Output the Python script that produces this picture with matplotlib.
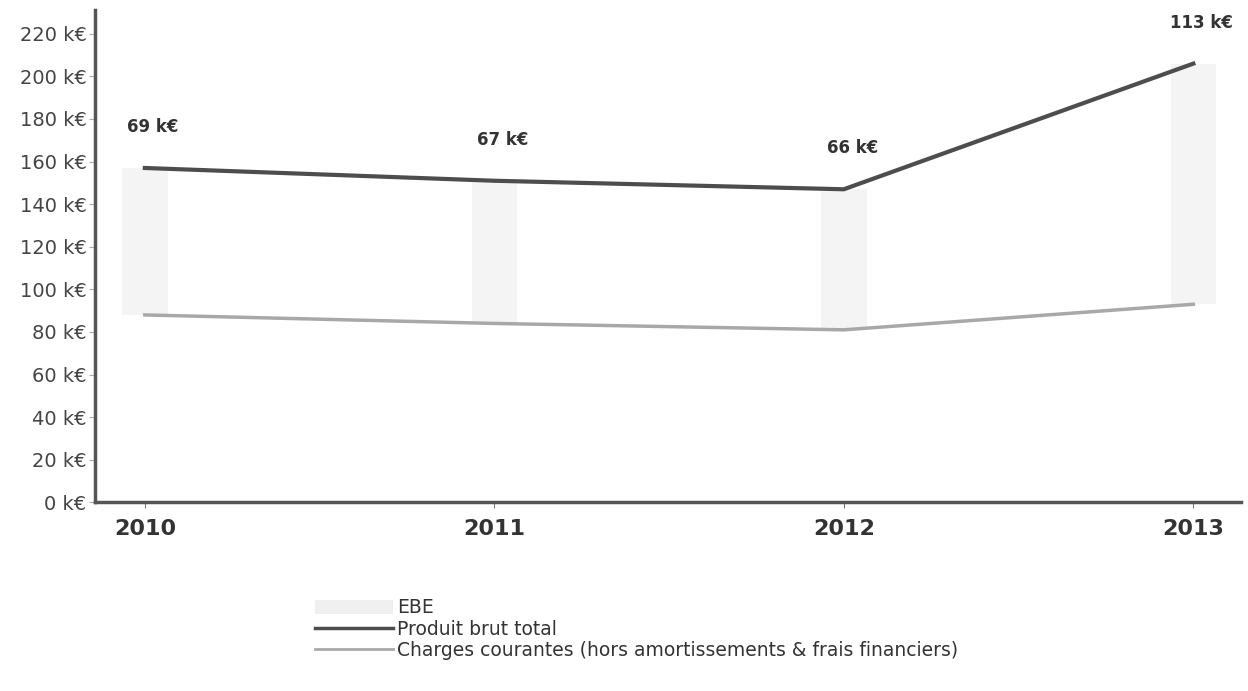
import matplotlib.pyplot as plt
from matplotlib.patches import Patch
from matplotlib.lines import Line2D

years = [2010, 2011, 2012, 2013]
produit = [157, 151, 147, 206]
charges = [88, 84, 81, 93]
ebe = [69, 67, 66, 113]
yticks = list(range(0, 221, 20))

fig = plt.figure(figsize=(12.48, 6.91), dpi=100)
ax = fig.add_axes([0.076, 0.273, 0.918, 0.712])

# EBE as floating bars between charges and produit
heights = [p - c for p, c in zip(produit, charges)]
ax.bar(years, heights, bottom=charges, width=0.13, color="#f4f4f4", zorder=1)
ax.plot(years, produit, color="#4d4d4d", lw=3, zorder=3)
ax.plot(years, charges, color="#a8a8a8", lw=2.5, zorder=3)

for x, p, e in zip(years, produit, ebe):
    ax.annotate(f"{e} k€", (x, p), xytext=(6, 23), textcoords="offset points",
                ha="center", va="bottom", fontsize=12, fontweight="bold",
                color="#333333")

ax.set_xlim(2009.857, 2013.135)
ax.set_ylim(0, 231)
ax.set_xticks(years)
ax.set_xticklabels([str(y) for y in years], fontsize=16, fontweight="bold", color="#333333")
ax.set_yticks(yticks)
ax.set_yticklabels([f"{v} k€" for v in yticks], fontsize=14, color="#444444")
ax.tick_params(axis="y", length=4, color="#aaaaaa", pad=2)
ax.tick_params(axis="x", length=4, color="#777777", pad=8)
for s in ["top", "right"]:
    ax.spines[s].set_visible(False)
for s in ["left", "bottom"]:
    ax.spines[s].set_color("#555555")
    ax.spines[s].set_linewidth(2.5)

handles = [
    Patch(facecolor="#f0f0f0", edgecolor="none"),
    Line2D([], [], color="#4d4d4d", lw=2.5),
    Line2D([], [], color="#a8a8a8", lw=2),
]
labels = ["EBE", "Produit brut total",
          "Charges courantes (hors amortissements & frais financiers)"]
fig.legend(handles, labels, loc="upper left", bbox_to_anchor=(0.246, 0.145),
           frameon=False, fontsize=13.5, handlelength=4.2, handleheight=0.8,
           labelspacing=0.12, handletextpad=0.2, borderaxespad=0,
           labelcolor="#333333")

fig.savefig("out.png", dpi=100)
